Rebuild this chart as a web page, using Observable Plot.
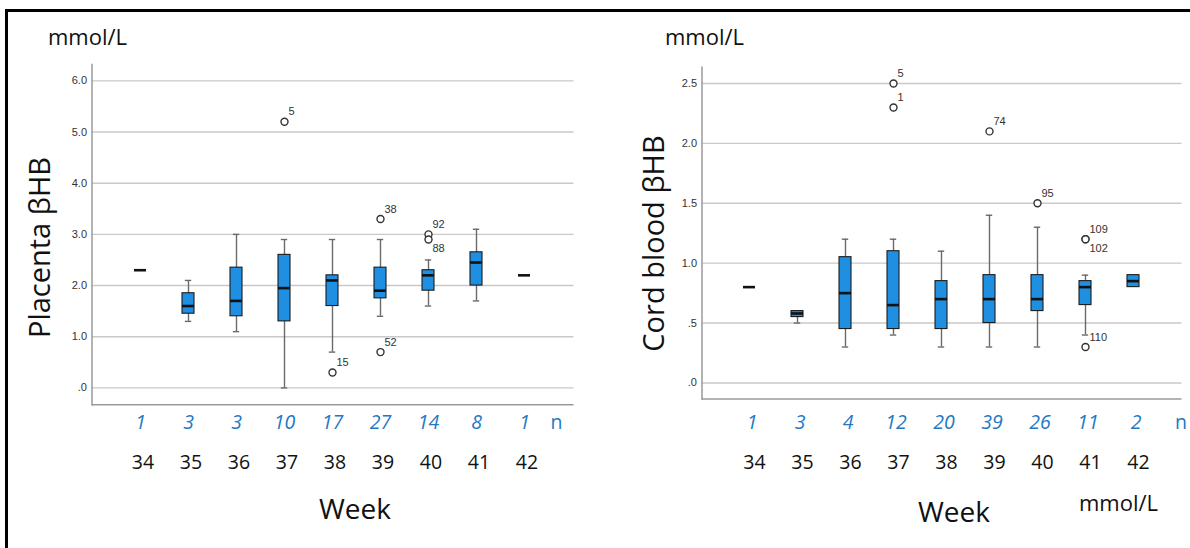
<!DOCTYPE html>
<html>
<head>
<meta charset="utf-8">
<script src="https://cdn.jsdelivr.net/npm/d3@7"></script>
<script src="https://cdn.jsdelivr.net/npm/@observablehq/plot@0.6"></script>
<style>
  html, body { margin: 0; padding: 0; background: #fff; overflow: hidden; }
  #page { position: relative; width: 1190px; height: 548px; overflow: hidden; background: #fff; }
  #border { position: absolute; left: 5px; top: 9px; width: 1300px; height: 700px; border: 3px solid #000; box-sizing: border-box; }
  .panel { position: absolute; top: 0; }
  #titles { position: absolute; left: 0; top: 0; pointer-events: none; }
  #titles text { font-family: "Open Sans", "Liberation Sans", sans-serif; fill: #111; }
</style>
</head>
<body>
<div id="page">
  <div id="border"></div>
  <div id="left" class="panel" style="left:0px"></div>
  <div id="right" class="panel" style="left:600px"></div>
  <svg id="titles" width="1190" height="548">
    <text x="48" y="45" font-size="22">mmol/L</text>
    <text x="665" y="45" font-size="22">mmol/L</text>
    <text x="1079" y="511" font-size="22">mmol/L</text>
    <text x="355" y="519" font-size="28" text-anchor="middle">Week</text>
    <text x="954" y="522" font-size="28" text-anchor="middle">Week</text>
    <text transform="translate(50,247.5) rotate(-90)" font-size="29" text-anchor="middle">Placenta βHB</text>
    <text transform="translate(664,243.5) rotate(-90)" font-size="29" text-anchor="middle">Cord blood βHB</text>
  </svg>
</div>
<script>
// ---------- data ----------
const weeks = [34, 35, 36, 37, 38, 39, 40, 41, 42];

// Placenta βHB (mmol/L)
const placentaLow    = [2.3, 1.3, 1.1, 0.0, 0.7, 1.4, 1.6, 1.7, 2.2];
const placentaQ1     = [2.3, 1.45, 1.4, 1.3, 1.6, 1.75, 1.9, 2.0, 2.2];
const placentaMedian = [2.3, 1.6, 1.7, 1.95, 2.1, 1.9, 2.2, 2.45, 2.2];
const placentaQ3     = [2.3, 1.85, 2.35, 2.6, 2.2, 2.35, 2.3, 2.65, 2.2];
const placentaHigh   = [2.3, 2.1, 3.0, 2.9, 2.9, 2.9, 2.5, 3.1, 2.2];
const placentaN      = [1, 3, 3, 10, 17, 27, 14, 8, 1];
const placentaOutlierWeek  = [37, 38, 39, 39, 40, 40];
const placentaOutlierValue = [5.2, 0.3, 3.3, 0.7, 3.0, 2.9];
const placentaOutlierId    = ["5", "15", "38", "52", "92", "88"];
const placentaTicks = [0, 1, 2, 3, 4, 5, 6];

// Cord blood βHB (mmol/L)
const cordLow    = [0.8, 0.5, 0.3, 0.4, 0.3, 0.3, 0.3, 0.4, 0.8];
const cordQ1     = [0.8, 0.55, 0.45, 0.45, 0.45, 0.5, 0.6, 0.65, 0.8];
const cordMedian = [0.8, 0.58, 0.75, 0.65, 0.7, 0.7, 0.7, 0.8, 0.85];
const cordQ3     = [0.8, 0.6, 1.05, 1.1, 0.85, 0.9, 0.9, 0.85, 0.9];
const cordHigh   = [0.8, 0.6, 1.2, 1.2, 1.1, 1.4, 1.3, 0.9, 0.9];
const cordN      = [1, 3, 4, 12, 20, 39, 26, 11, 2];
const cordOutlierWeek  = [37, 37, 39, 40, 41, 41, 41];
const cordOutlierValue = [2.5, 2.3, 2.1, 1.5, 1.2, 1.2, 0.3];
const cordOutlierId    = ["5", "1", "74", "95", "109", "102", "110"];
const cordTicks = [0, 0.5, 1, 1.5, 2, 2.5];

// ---------- helpers ----------
const BOX_FILL = "#1f8fe2";
const N_BLUE = "#2378c3";
const fmt = d => d3.format(".1f")(d).replace(/^0/, "");

function buildRows(low, q1, med, q3, high, n) {
  return weeks.map((w, i) => ({week: w, low: low[i], q1: q1[i], median: med[i], q3: q3[i], high: high[i], n: n[i]}));
}
function buildOutliers(wk, val, id) {
  const outs = wk.map((w, i) => ({week: w, value: val[i], id: id[i], idx: i}));
  outs.forEach(o => {
    const partner = outs.find(p => p !== o && p.week === o.week && Math.abs(p.value - o.value) <= 0.11);
    o.below = partner ? (o.value < partner.value || (o.value === partner.value && o.idx > partner.idx)) : false;
  });
  return outs;
}

function panel(cfg) {
  const {rows, outs, yDomain, yTicks, width, mL, mR, mT, mB, nDy, wDy, nDx, wDx, nLabelDx} = cfg;
  return Plot.plot({
    width, height: 548,
    marginLeft: mL, marginRight: mR, marginTop: mT, marginBottom: mB,
    style: {fontFamily: "'Liberation Sans', Arial, sans-serif", fontSize: "11px", color: "#333", background: "transparent"},
    x: {type: "band", domain: weeks, paddingInner: 0.74, paddingOuter: 0.87, axis: null},
    y: {domain: yDomain},
    marks: [
      Plot.gridY({ticks: yTicks, stroke: "#c9c9c9", strokeOpacity: 1, strokeWidth: 1.4}),
      Plot.axisY({ticks: yTicks, tickSize: 0, tickPadding: 5, tickFormat: fmt, fontSize: 11, fill: "#333", label: null}),
      Plot.frame({anchor: "left", stroke: "#9a9a9a", strokeWidth: 1.5}),
      Plot.ruleY([yDomain[0]], {stroke: "#9a9a9a", strokeWidth: 1.5}),
      // whiskers
      Plot.ruleX(rows, {x: "week", y1: "low", y2: "high", stroke: "#6a6a6a", strokeWidth: 1.4}),
      Plot.tickY(rows.filter(d => d.low < d.q1), {x: "week", y: "low", stroke: "#6a6a6a", strokeWidth: 1.4, insetLeft: 2.8, insetRight: 2.8}),
      Plot.tickY(rows.filter(d => d.high > d.q3), {x: "week", y: "high", stroke: "#6a6a6a", strokeWidth: 1.4, insetLeft: 2.8, insetRight: 2.8}),
      // boxes
      Plot.barY(rows.filter(d => d.q3 > d.q1), {x: "week", y1: "q1", y2: "q3", fill: BOX_FILL, stroke: "#1c1c1c", strokeWidth: 1.1}),
      // medians
      Plot.tickY(rows, {x: "week", y: "median", stroke: "#111", strokeWidth: 2.6}),
      // outliers
      Plot.dot(outs, {x: "week", y: "value", r: 3.5, stroke: "#333", fill: "white", strokeWidth: 1.4}),
      Plot.text(outs.filter(o => !o.below), {x: "week", y: "value", text: "id", textAnchor: "start", dx: 4, dy: -10, fontSize: 11, fill: "#333"}),
      Plot.text(outs.filter(o => o.below), {x: "week", y: "value", text: "id", textAnchor: "start", dx: 4, dy: 9, fontSize: 11, fill: "#333"}),
      // n row and week row below the axis
      Plot.text(rows, {x: "week", text: d => String(d.n), frameAnchor: "bottom", dy: nDy, dx: nDx, fontSize: 19.5, fontStyle: "italic", fill: N_BLUE, fontFamily: "'Open Sans', sans-serif"}),
      Plot.text([weeks[weeks.length - 1]], {x: d => d, text: () => "n", frameAnchor: "bottom", dy: nDy, dx: nLabelDx, fontSize: 19.5, fill: N_BLUE, fontFamily: "'Open Sans', sans-serif"}),
      Plot.text(rows, {x: "week", text: d => String(d.week), frameAnchor: "bottom", dy: wDy, dx: wDx, fontSize: 19.5, fill: "#111", fontFamily: "'Open Sans', sans-serif"})
    ]
  });
}

const left = panel({
  rows: buildRows(placentaLow, placentaQ1, placentaMedian, placentaQ3, placentaHigh, placentaN),
  outs: buildOutliers(placentaOutlierWeek, placentaOutlierValue, placentaOutlierId),
  yDomain: [-0.33, 6.32], yTicks: placentaTicks,
  width: 600, mL: 91.5, mR: 26.5, mT: 64, mB: 143.7,
  nDy: 23.7, wDy: 63.7, nDx: 0, wDx: 2.5, nLabelDx: 32
});
document.getElementById("left").appendChild(left);

const right = panel({
  rows: buildRows(cordLow, cordQ1, cordMedian, cordQ3, cordHigh, cordN),
  outs: buildOutliers(cordOutlierWeek, cordOutlierValue, cordOutlierId),
  yDomain: [-0.134, 2.636], yTicks: cordTicks,
  width: 590, mL: 101.5, mR: 8.5, mT: 66.7, mB: 149.5,
  nDy: 29.5, wDy: 69.5, nDx: 2.5, wDx: 5, nLabelDx: 47.5
});
document.getElementById("right").appendChild(right);
</script>
</body>
</html>
